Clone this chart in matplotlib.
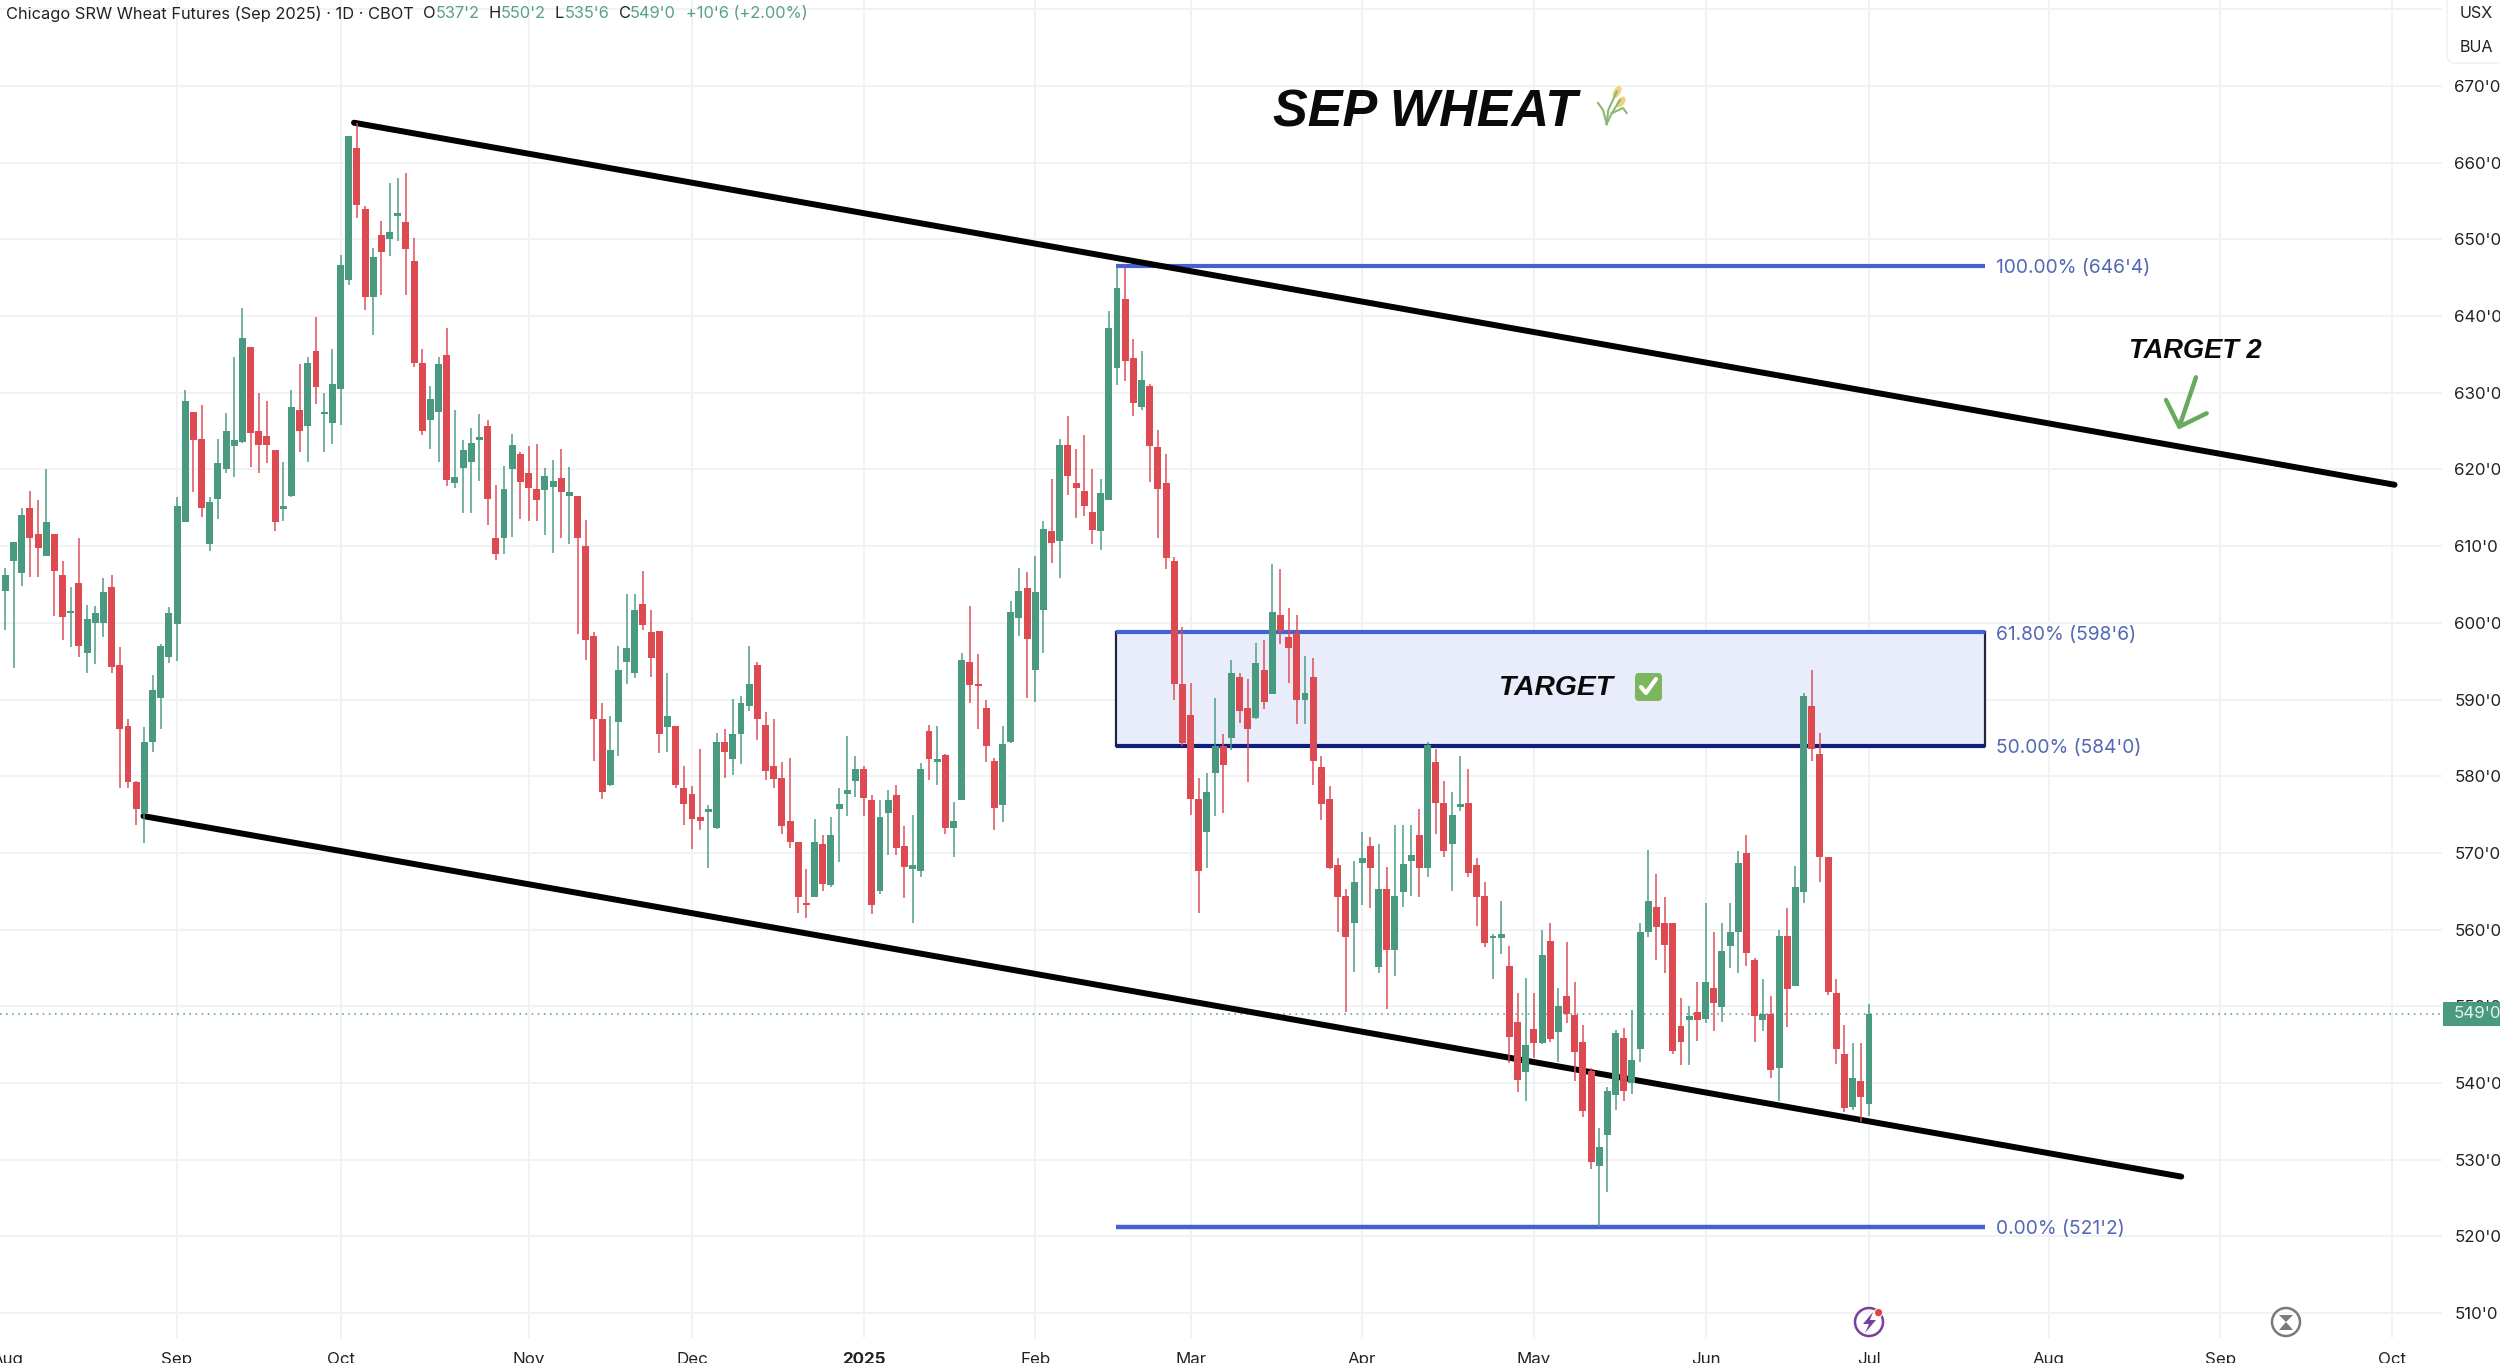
import matplotlib
matplotlib.use("Agg")
import matplotlib.pyplot as plt
from matplotlib.patches import Rectangle, FancyBboxPatch, Circle, Ellipse, Polygon

# daily OHLC, Sep 2025 SRW wheat
opens = [
    604.2, 608.1, 606.5, 615.0, 611.6, 608.7, 611.6, 606.2, 601.3, 605.2,
    596.1, 600.0, 600.0, 604.7, 594.5, 586.5, 579.2, 575.2, 584.5, 590.2,
    595.5, 599.8, 613.2, 627.5, 624.0, 610.3, 616.2, 620.0, 623.0, 623.6,
    635.9, 625.0, 624.4, 622.5, 614.9, 616.5, 627.7, 625.7, 635.5, 627.2,
    626.0, 630.5, 644.7, 661.9, 654.0, 642.5, 650.5, 650.0, 653.0, 652.2,
    647.2, 633.9, 626.5, 627.5, 634.9, 618.2, 620.2, 621.0, 623.8, 625.7,
    611.0, 611.0, 620.0, 622.0, 619.5, 617.4, 617.3, 617.7, 618.9, 616.5,
    616.5, 610.0, 598.3, 587.4, 578.8, 587.1, 594.9, 593.4, 602.5, 598.8,
    598.9, 586.4, 586.5, 578.4, 577.7, 574.7, 575.4, 573.2, 584.4, 582.2,
    585.5, 589.1, 594.5, 586.7, 581.3, 579.8, 574.2, 571.4, 563.4, 564.2,
    571.2, 565.8, 575.7, 577.7, 579.4, 580.9, 576.9, 565.0, 575.2, 577.5,
    570.9, 567.9, 567.7, 585.9, 581.9, 582.8, 573.2, 576.9, 594.9, 592.0,
    588.9, 582.0, 576.2, 584.4, 600.6, 604.6, 593.9, 601.7, 612.0, 610.7,
    623.2, 618.2, 617.2, 614.4, 612.0, 616.0, 633.2, 642.2, 634.5, 628.1,
    630.9, 622.9, 618.2, 608.1, 592.0, 588.0, 577.0, 572.7, 580.4, 584.0,
    585.0, 593.0, 588.9, 587.6, 593.9, 590.7, 601.0, 598.2, 598.7, 590.0,
    592.9, 581.2, 577.0, 568.4, 564.4, 560.9, 568.7, 570.9, 555.1, 565.3,
    557.4, 564.9, 568.9, 572.4, 568.0, 581.9, 576.5, 571.2, 576.0, 576.5,
    568.4, 564.4, 558.9, 558.9, 555.2, 548.0, 541.5, 547.0, 545.2, 558.5,
    546.7, 551.4, 548.9, 545.3, 541.6, 529.2, 533.2, 538.5, 545.9, 540.0,
    544.5, 559.7, 562.9, 560.9, 560.9, 547.4, 548.2, 549.2, 548.4, 552.4,
    549.9, 557.9, 559.7, 570.0, 556.0, 548.2, 549.0, 542.0, 559.2, 552.7,
    564.9, 589.2, 582.9, 569.5, 551.7, 543.8, 536.9, 540.3, 537.25,
]
closes = [
    606.2, 610.6, 614.0, 611.0, 609.7, 613.2, 606.7, 600.7, 601.5, 597.0,
    600.5, 601.3, 604.0, 594.2, 586.2, 579.2, 575.7, 584.5, 591.2, 597.0,
    601.3, 615.2, 628.9, 623.8, 615.0, 615.7, 620.8, 625.0, 623.9, 637.1,
    624.7, 623.2, 623.2, 613.2, 615.0, 628.1, 625.0, 633.9, 630.7, 627.4,
    631.1, 646.7, 663.5, 654.5, 642.5, 647.7, 648.4, 650.9, 653.4, 648.7,
    633.9, 625.0, 629.2, 633.7, 618.6, 619.0, 622.5, 623.5, 624.2, 616.2,
    609.0, 617.4, 623.2, 618.4, 617.6, 616.0, 619.2, 618.5, 617.0, 617.0,
    611.0, 597.7, 587.4, 577.9, 583.4, 593.9, 596.7, 601.7, 599.7, 595.4,
    585.5, 587.8, 578.9, 576.4, 574.4, 574.2, 575.6, 584.4, 583.1, 585.5,
    589.6, 592.0, 587.4, 580.7, 579.7, 573.5, 571.4, 564.2, 563.2, 571.4,
    565.9, 572.4, 576.4, 578.2, 580.9, 577.2, 563.2, 574.7, 576.9, 570.7,
    568.2, 568.4, 580.9, 582.2, 582.1, 573.2, 574.2, 595.1, 591.9, 591.7,
    584.0, 575.9, 584.2, 601.4, 604.1, 597.9, 604.0, 612.2, 610.4, 623.2,
    619.2, 617.6, 615.2, 612.1, 616.9, 638.5, 643.7, 634.2, 628.7, 631.7,
    623.1, 617.4, 608.4, 592.0, 584.3, 577.0, 567.7, 577.9, 584.0, 581.5,
    593.4, 588.5, 586.2, 594.7, 589.7, 601.4, 598.9, 596.7, 590.0, 590.9,
    582.0, 576.4, 568.0, 564.2, 559.1, 566.2, 569.4, 568.0, 565.3, 557.4,
    564.4, 568.6, 569.7, 568.0, 584.1, 576.5, 570.2, 574.9, 576.4, 567.4,
    564.2, 558.2, 559.0, 559.4, 546.0, 540.4, 545.0, 545.2, 556.7, 545.7,
    550.0, 549.0, 544.0, 536.4, 529.7, 531.7, 539.0, 546.5, 539.0, 543.0,
    559.7, 563.7, 560.4, 558.0, 544.2, 545.4, 548.7, 548.2, 553.2, 550.4,
    557.2, 559.7, 568.7, 557.0, 548.7, 549.0, 541.7, 559.2, 552.2, 565.5,
    590.5, 583.5, 569.5, 551.9, 544.5, 536.7, 540.7, 538.2, 549.0,
]
highs = [
    607.1, 610.6, 615.0, 617.2, 616.0, 620.0, 611.6, 608.1, 604.7, 611.0,
    602.3, 602.2, 605.9, 606.2, 596.9, 587.4, 579.4, 586.4, 593.2, 597.3,
    602.1, 616.4, 630.3, 627.5, 628.4, 616.4, 624.0, 627.3, 634.7, 641.1,
    635.9, 629.9, 628.9, 622.5, 621.0, 630.3, 633.7, 634.6, 639.9, 629.9,
    635.7, 647.9, 663.5, 665.1, 654.4, 648.9, 652.4, 657.4, 658.0, 658.7,
    650.2, 635.7, 630.9, 634.7, 638.5, 627.8, 623.8, 625.4, 627.2, 626.5,
    618.0, 620.5, 624.6, 622.3, 623.0, 623.3, 620.2, 621.2, 622.6, 620.3,
    616.5, 613.4, 598.8, 589.6, 587.9, 597.0, 603.7, 603.7, 606.7, 601.7,
    598.9, 593.4, 586.5, 581.3, 578.7, 583.5, 576.2, 585.6, 586.2, 590.1,
    590.4, 597.0, 594.9, 588.4, 587.4, 581.9, 582.4, 571.4, 567.9, 574.4,
    572.4, 574.7, 578.4, 585.2, 582.7, 581.3, 577.5, 576.9, 578.2, 578.9,
    573.5, 574.9, 581.7, 586.7, 586.5, 582.9, 576.7, 596.1, 602.2, 596.0,
    589.9, 582.4, 586.6, 602.9, 607.2, 606.6, 608.7, 613.3, 618.7, 624.0,
    626.9, 622.7, 624.5, 620.1, 618.7, 640.7, 646.4, 646.4, 637.0, 635.5,
    631.2, 625.2, 622.0, 608.6, 599.4, 592.1, 579.8, 580.4, 590.2, 585.5,
    595.2, 593.5, 592.7, 597.4, 597.7, 607.7, 607.0, 601.9, 601.0, 595.7,
    595.4, 582.7, 578.7, 569.4, 565.3, 569.0, 572.7, 572.1, 571.2, 568.2,
    573.7, 573.7, 573.7, 575.7, 584.4, 583.6, 579.4, 577.9, 582.7, 580.9,
    569.4, 566.2, 559.4, 563.7, 557.9, 551.7, 553.7, 551.7, 560.0, 560.9,
    552.4, 558.4, 553.2, 547.6, 541.9, 534.1, 539.5, 546.9, 547.2, 549.5,
    560.9, 570.4, 567.2, 564.3, 560.9, 551.1, 550.0, 553.2, 563.5, 559.7,
    560.9, 563.5, 570.2, 572.4, 556.3, 553.5, 551.4, 560.0, 562.8, 568.3,
    590.9, 593.9, 585.7, 569.5, 553.5, 547.6, 545.2, 545.2, 550.25,
]
lows = [
    599.0, 594.1, 604.8, 606.0, 606.0, 608.7, 600.9, 597.8, 596.8, 595.5,
    593.4, 594.6, 598.2, 593.4, 578.4, 578.4, 573.6, 571.3, 583.2, 586.2,
    594.7, 595.0, 613.1, 617.1, 613.8, 609.3, 613.5, 619.5, 619.0, 623.5,
    620.3, 619.5, 620.8, 612.0, 613.3, 616.4, 622.3, 621.0, 628.5, 622.3,
    623.3, 625.8, 644.0, 652.8, 640.8, 637.5, 642.8, 647.8, 649.8, 642.7,
    633.4, 624.5, 622.7, 621.0, 617.8, 617.6, 614.3, 614.3, 618.5, 612.8,
    608.2, 609.0, 611.2, 613.5, 613.3, 613.3, 611.5, 609.1, 611.0, 610.3,
    598.5, 595.2, 582.0, 577.0, 578.7, 582.7, 592.0, 592.8, 599.0, 593.0,
    583.0, 583.2, 578.5, 573.7, 570.5, 573.0, 568.1, 573.1, 579.8, 580.1,
    581.6, 588.5, 584.7, 579.5, 578.5, 572.5, 570.6, 562.2, 561.5, 564.2,
    565.0, 565.6, 568.8, 574.8, 577.3, 574.8, 562.0, 564.7, 569.7, 569.7,
    564.1, 560.8, 566.8, 579.5, 578.8, 572.5, 569.5, 576.9, 589.5, 586.2,
    581.8, 573.0, 574.0, 584.3, 598.3, 590.2, 589.7, 596.1, 607.8, 605.8,
    616.7, 613.7, 613.9, 610.3, 609.5, 616.0, 631.0, 631.5, 627.0, 627.8,
    618.3, 611.0, 607.0, 590.0, 583.9, 575.0, 562.2, 568.0, 574.8, 575.2,
    583.4, 587.0, 579.2, 587.5, 588.7, 590.7, 597.2, 592.1, 586.8, 586.8,
    578.8, 574.3, 567.9, 559.7, 549.3, 554.5, 563.2, 562.8, 554.3, 549.7,
    554.0, 563.0, 564.4, 564.2, 566.8, 572.5, 569.5, 565.1, 575.5, 566.8,
    560.5, 557.7, 553.5, 556.8, 542.6, 538.8, 537.7, 543.2, 545.1, 545.3,
    542.8, 547.8, 540.3, 535.6, 528.8, 521.25, 525.8, 536.5, 537.7, 538.6,
    542.7, 559.0, 556.0, 554.3, 543.8, 542.3, 542.3, 545.5, 547.8, 546.8,
    548.0, 555.0, 554.3, 555.2, 545.3, 546.8, 540.7, 537.7, 547.3, 552.6,
    563.5, 582.0, 566.2, 551.5, 542.5, 536.2, 536.5, 534.9, 535.75,
]

# trend channel, (bar index, price)
upper_line = [(42.65, 665.2), (292.3, 618.0)]
lower_line = [(16.9, 574.8), (266.2, 527.8)]

# fib levels
fib_prices = [646.5, 598.75, 584.0, 521.25]
fib_labels = ["100.00% (646'4)", "61.80% (598'6)", "50.00% (584'0)", "0.00% (521'2)"]
fib_start, fib_end = 135.9, 242.2

y_prices = [510, 520, 530, 540, 550, 560, 570, 580, 590, 600, 610, 620, 630, 640, 650, 660, 670]
y_labels = [f"{p}'0" for p in y_prices]
grid_extra = 680
month_pos = [0.3, 21, 41, 64, 84, 105, 126, 145, 166, 187, 208, 228, 250, 271, 292]
month_labels = ["Aug", "Sep", "Oct", "Nov", "Dec", "2025", "Feb", "Mar", "Apr", "May", "Jun",
                "Jul", "Aug", "Sep", "Oct"]
last_price = 549.0

GREEN = "#4a9a82"
RED = "#dd4a52"
BLUE = "#4563cf"
NAVY = "#10207a"
FIB_TEXT = "#5268b4"
GRID = "#f1f2f4"
TEXT = "#1f2226"

plt.rcParams["font.family"] = ["Inter", "DejaVu Sans"]

fig = plt.figure(figsize=(25, 13.63), dpi=100)
ax = fig.add_axes([0, 0, 1, 1])
ax.set_xlim(-0.66, 305.2)
ax.set_ylim(503.5, 681.2)
for s in ax.spines.values():
    s.set_visible(False)

# grid stops short of the price and time scales
ax.hlines(y_prices + [grid_extra], -1, 298.1, color=GRID, lw=1.4, zorder=1)
ax.vlines([-1] + month_pos[1:], 506.8, 681.2, color=GRID, lw=1.4, zorder=1)

ax.yaxis.tick_right()
ax.set_yticks(y_prices)
ax.set_yticklabels(y_labels, fontsize=12.2, color=TEXT)
ax.tick_params(axis="y", length=0, pad=-33)
ax.set_xticks(month_pos)
ax.set_xticklabels(month_labels, fontsize=12.2, color=TEXT)
ax.tick_params(axis="x", length=0, pad=-8)
ax.get_xticklabels()[5].set_fontweight("bold")

# target box and fib lines
ax.add_patch(Rectangle((fib_start, fib_prices[2]), fib_end - fib_start, fib_prices[1] - fib_prices[2],
                       facecolor="#e9edfb", edgecolor="#23263f", lw=1.6, zorder=1.5))
ax.hlines(fib_prices[0], fib_start, fib_end, color=BLUE, lw=3.0, zorder=2)
ax.hlines(fib_prices[1], fib_start, fib_end, color=BLUE, lw=3.0, zorder=2)
ax.hlines(fib_prices[2], fib_start, fib_end, color=NAVY, lw=3.0, zorder=2)
ax.hlines(fib_prices[3], fib_start, fib_end, color=BLUE, lw=3.2, zorder=2)
for p, lab in zip(fib_prices, fib_labels):
    ax.text(243.5, p - 0.3, lab, color=FIB_TEXT, fontsize=13.8, va="center", ha="left", zorder=5)

ax.axhline(last_price, xmax=2443 / 2500, color=GREEN, lw=1.1, ls=(0, (1, 3)), zorder=1.6)

# channel
for line in (upper_line, lower_line):
    ax.plot([line[0][0], line[1][0]], [line[0][1], line[1][1]], color="black", lw=4.3,
            solid_capstyle="round", zorder=2.5)

# candles
idx = list(range(len(opens)))
cols = [GREEN if c >= o else RED for o, c in zip(opens, closes)]
ax.vlines(idx, lows, highs, colors=cols, lw=1.25, alpha=0.85, zorder=3)
bottoms = [min(o, c) for o, c in zip(opens, closes)]
heights = [max(abs(c - o), 0.3) for o, c in zip(opens, closes)]
ax.bar(idx, heights, bottom=bottoms, width=0.85, color=cols, linewidth=0, zorder=3.2)

# overlay in image pixels for the drawn-on notes and app icons
ov = fig.add_axes([0, 0, 1, 1], facecolor="none")
ov.set_xlim(0, 2500)
ov.set_ylim(1363, 0)
ov.axis("off")

title_font = dict(family="Liberation Sans", weight="bold", style="italic", color="#0a0a0a")
ov.text(1273, 113, "SEP WHEAT", fontsize=37.5, va="center", ha="left", **title_font)
ov.text(1499, 688, "TARGET", fontsize=20.3, va="center", ha="left", **title_font)
ov.text(2129, 351, "TARGET 2", fontsize=19.6, va="center", ha="left", **title_font)

# wheat emoji
ov.plot([1606.7, 1608.3, 1616.7], [124, 110, 91.7], color="#8ab873", lw=1.5)
ov.plot([1606.7, 1611.7, 1620], [124, 113.3, 100], color="#8ab873", lw=1.5)
ov.plot([1606.7, 1603, 1598], [124, 110, 103], color="#8ab873", lw=1.5)
ov.plot([1611.7, 1623, 1626.7], [113.3, 108, 113], color="#8ab873", lw=1.5)
ov.add_patch(Ellipse((1617, 92), 5.5, 12, angle=30, color="#efd27c"))
ov.add_patch(Ellipse((1621, 102), 5.5, 11, angle=35, color="#efd27c"))

# check emoji
ov.add_patch(FancyBboxPatch((1638, 676), 21, 22, boxstyle="round,pad=3,rounding_size=4",
                            facecolor="#7cb65f", edgecolor="none"))
ov.plot([1641, 1646, 1656], [687, 693, 679], color="white", lw=3, solid_capstyle="round")

# hand-drawn arrow
ov.plot([2196, 2179.3, 2166], [377.3, 426.7, 400], color="#67ab5c", lw=3.2, solid_capstyle="round")
ov.plot([2179.3, 2206.7], [426.7, 413.3], color="#67ab5c", lw=3.2, solid_capstyle="round")

# legend line
ov.text(6, 14, "Chicago SRW Wheat Futures (Sep 2025) · 1D · CBOT", fontsize=11.8, color=TEXT,
        va="center", ha="left")
legend_bits = [(423, "O", TEXT), (436, "537'2", "#5a9f8c"), (489, "H", TEXT), (501, "550'2", "#5a9f8c"),
               (555, "L", TEXT), (565, "535'6", "#5a9f8c"), (619, "C", TEXT), (630, "549'0", "#5a9f8c"),
               (686, "+10'6 (+2.00%)", "#5a9f8c")]
for x, s, c in legend_bits:
    ov.text(x, 14, s, fontsize=11.8, color=c, va="center", ha="left")

# currency / unit box
ov.add_patch(FancyBboxPatch((2450, -20), 70, 80, boxstyle="round,pad=3,rounding_size=8",
                            facecolor="white", edgecolor="#f1f2f4", lw=1.2, zorder=2))
ov.text(2476, 14, "USX", fontsize=11.6, color=TEXT, ha="center", va="center", zorder=3)
ov.text(2476, 48, "BUA", fontsize=11.6, color=TEXT, ha="center", va="center", zorder=3)

# last price tag
ov.add_patch(Rectangle((2443, 1002), 57, 24, facecolor=GREEN, edgecolor="none", zorder=3))
ov.text(2454, 1014, "549'0", fontsize=12.2, color="#e6f3ee", ha="left", va="center", zorder=4)

# bottom icons
ov.add_patch(Circle((1869, 1322), 14, fill=False, edgecolor="#7a3f9d", lw=1.8))
ov.add_patch(Polygon([(1873, 1312), (1863, 1324), (1869, 1324), (1865, 1333), (1876, 1320), (1870, 1320)],
                     facecolor="#7a3f9d", edgecolor="none"))
ov.add_patch(Circle((1878.6, 1312.6), 4.2, facecolor="#d8483f", edgecolor="white", lw=0.8))
ov.add_patch(Circle((2286, 1322), 14, fill=False, edgecolor="#7a7a7a", lw=1.8))
ov.add_patch(Polygon([(2279, 1315), (2293, 1315), (2286, 1322)], facecolor="#7a7a7a", edgecolor="none"))
ov.add_patch(Polygon([(2286, 1322), (2279, 1330), (2293, 1330)], facecolor="#7a7a7a", edgecolor="none"))

fig.savefig("out.png", dpi=100)
